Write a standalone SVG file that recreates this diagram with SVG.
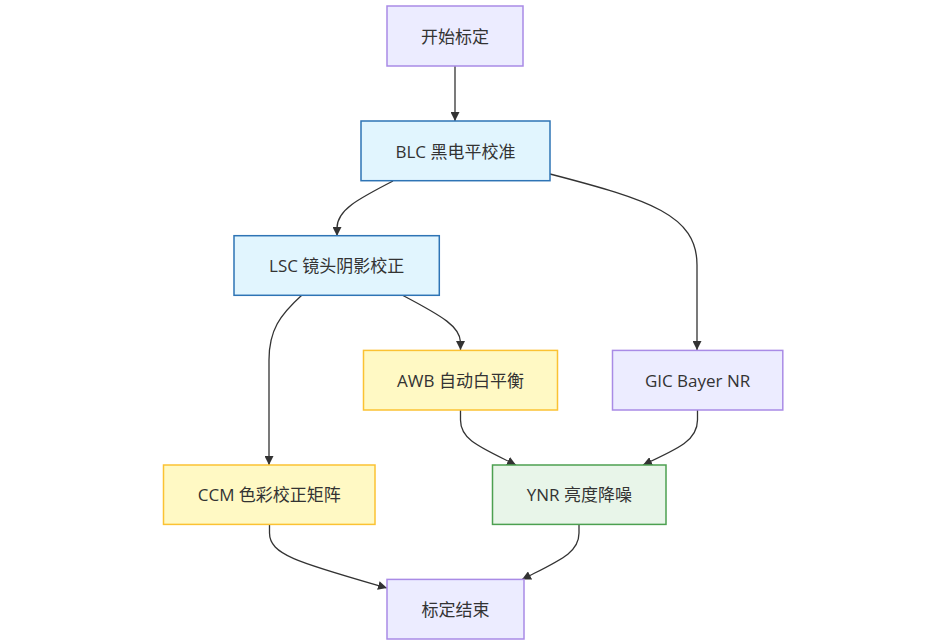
<svg xmlns="http://www.w3.org/2000/svg" width="930" height="644" viewBox="0 0 930 644">
<style>
.n rect{stroke-width:1.5}
.n text{font-family:"Open Sans","Noto Sans CJK SC",sans-serif;font-size:17px;fill:#333;text-anchor:middle;dominant-baseline:central}
.p rect{fill:#ECECFF;stroke:#A98BE6}
.b rect{fill:#E1F5FE;stroke:#2E74B5}
.y rect{fill:#FFF9C4;stroke:#FBC233}
.g rect{fill:#E8F5E9;stroke:#4CA050}
.e path{fill:none;stroke:#333;stroke-width:1.3}
</style>
<defs>
<marker id="a" viewBox="0 0 10 10" refX="10" refY="5" markerUnits="userSpaceOnUse" markerWidth="9" markerHeight="9" orient="auto">
<path d="M0,0 L10,5 L0,10 z" fill="#333"/>
</marker>
</defs>
<rect width="930" height="644" fill="#fff"/>
<g id="edges" class="e">
<path d="M455,66 L455,121" marker-end="url(#a)"/>
<path d="M393,181 C358,199 337,210 337,228 L337,236" marker-end="url(#a)"/>
<path d="M550,174 C650,200 697,215 697,265 L697,350" marker-end="url(#a)"/>
<path d="M302,295 C280,315 269,330 269,360 L269,465" marker-end="url(#a)"/>
<path d="M402,295 C444,317 460,327 460.5,342 L460.5,350" marker-end="url(#a)"/>
<path d="M460.5,410 L460.5,420 C460.5,440 480,447 516,465" marker-end="url(#a)"/>
<path d="M697.5,410 L697.5,420 C697.5,440 680,448 643,465" marker-end="url(#a)"/>
<path d="M269.5,524.5 L269.5,533 C269.5,555 300,563 387,588" marker-end="url(#a)"/>
<path d="M579,524.5 L579,533 C579,553 560,560 522,579.5" marker-end="url(#a)"/>
</g>
<g id="start" class="n p"><rect x="387" y="6" width="136" height="60"/><text x="455" y="36">开始标定</text></g>
<g id="blc" class="n b"><rect x="361" y="121" width="189" height="59.7"/><text x="455.5" y="151">BLC 黑电平校准</text></g>
<g id="lsc" class="n b"><rect x="234" y="235.7" width="205.3" height="59.6"/><text x="336.7" y="265.5">LSC 镜头阴影校正</text></g>
<g id="awb" class="n y"><rect x="363.5" y="350.4" width="194" height="59.6"/><text x="460.5" y="380.2">AWB 自动白平衡</text></g>
<g id="gic" class="n p"><rect x="612.5" y="350.4" width="170.3" height="59.6"/><text x="697.6" y="380.2">GIC Bayer NR</text></g>
<g id="ccm" class="n y"><rect x="163.5" y="465" width="211.5" height="59.4"/><text x="269.3" y="494.7">CCM 色彩校正矩阵</text></g>
<g id="ynr" class="n g"><rect x="492.5" y="465" width="173.5" height="59.4"/><text x="579.3" y="494.7">YNR 亮度降噪</text></g>
<g id="end" class="n p"><rect x="387" y="579.4" width="137" height="59.6"/><text x="455.5" y="609.2">标定结束</text></g>
</svg>
